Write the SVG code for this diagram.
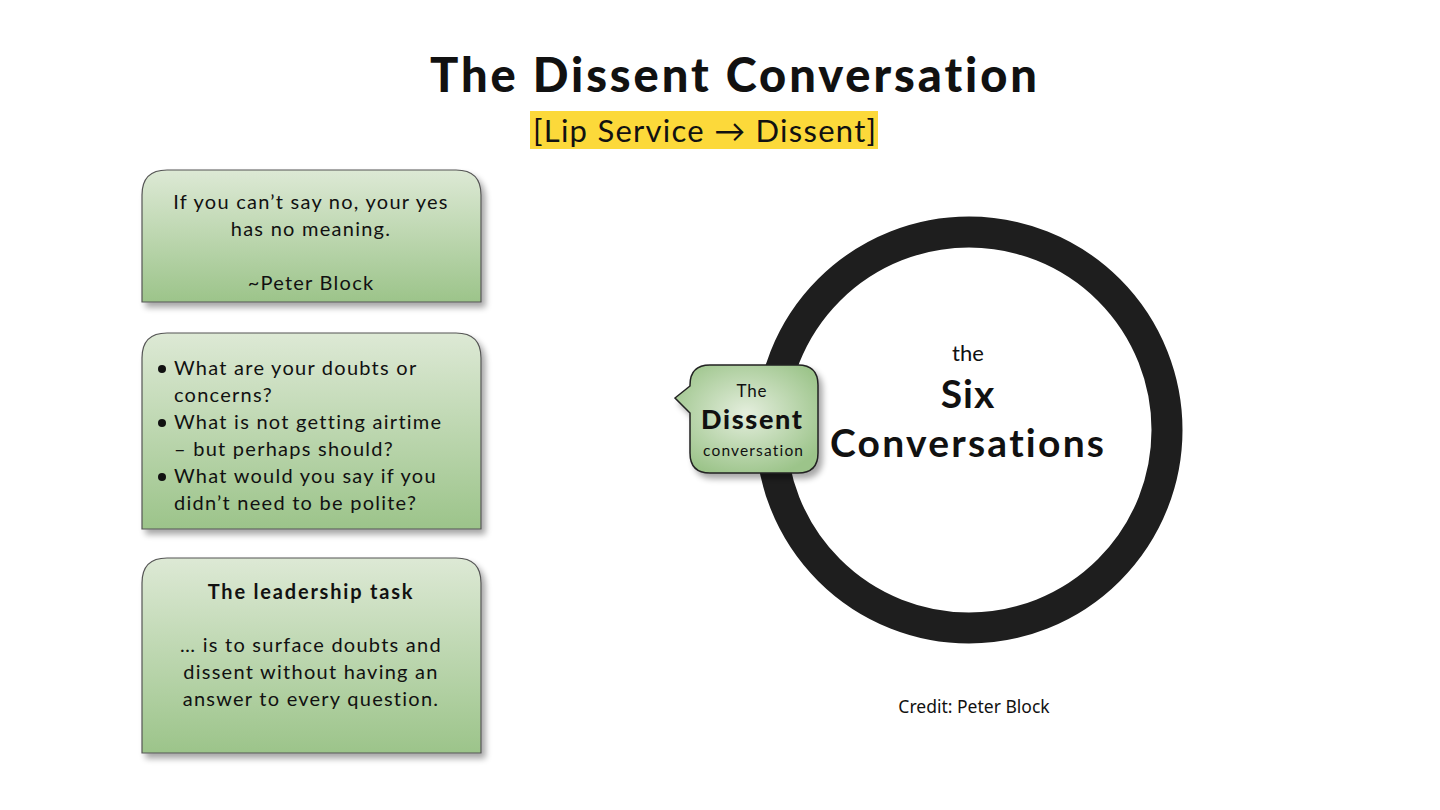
<svg xmlns="http://www.w3.org/2000/svg" width="1440" height="810" viewBox="0 0 1440 810">
<style>
text{font-variant-ligatures:none;font-feature-settings:"liga" 0;}
.t{font-family:Lato,"Open Sans",sans-serif;fill:#111;}
.box{stroke:#555;stroke-width:1.2;}
.bt{font-family:Lato,"Noto Sans",sans-serif;font-size:20px;fill:#111;letter-spacing:1.25px;}
</style>
<defs>
<linearGradient id="g" x1="0" y1="0" x2="0" y2="1">
<stop offset="0" stop-color="#dde9d5"/>
<stop offset="1" stop-color="#9cc48a"/>
</linearGradient>
<radialGradient id="rg" cx="0.5" cy="0.45" r="0.6">
<stop offset="0" stop-color="#e4eedd"/>
<stop offset="1" stop-color="#9cc48a"/>
</radialGradient>
<filter id="sh" x="-10%" y="-10%" width="130%" height="130%">
<feGaussianBlur in="SourceAlpha" stdDeviation="3"/>
<feOffset dx="4" dy="5"/>
<feComponentTransfer><feFuncA type="linear" slope="0.35"/></feComponentTransfer>
<feMerge><feMergeNode/><feMergeNode in="SourceGraphic"/></feMerge>
</filter>
</defs>
<rect width="1440" height="810" fill="#fff"/>
<g id="title">
<text class="t" x="430" y="92" font-size="47" font-weight="900" textLength="607" lengthAdjust="spacing">The Dissent Conversation</text>
<rect x="530" y="111" width="348" height="38" fill="#fcd93a"/>
<text class="t" x="533" y="142" font-size="31" textLength="343" lengthAdjust="spacing">[Lip Service → Dissent]</text>
</g>
<g id="quote">
<path class="box" filter="url(#sh)" d="M142 302 V195 Q142 170 167 170 H456 Q481 170 481 195 V302 Z" fill="url(#g)"/>
<text class="bt" x="311" y="209" text-anchor="middle">If you can’t say no, your yes</text>
<text class="bt" x="311" y="236" text-anchor="middle">has no meaning.</text>
<text class="bt" x="311" y="290" text-anchor="middle">~Peter Block</text>
</g>
<g id="questions">
<path class="box" filter="url(#sh)" d="M142 529 V358 Q142 333 167 333 H456 Q481 333 481 358 V529 Z" fill="url(#g)"/>
<circle cx="162" cy="369" r="4" fill="#111"/>
<circle cx="162" cy="423" r="4" fill="#111"/>
<circle cx="162" cy="477" r="4" fill="#111"/>
<text class="bt" x="174" y="375">What are your doubts or</text>
<text class="bt" x="174" y="402">concerns?</text>
<text class="bt" x="174" y="429">What is not getting airtime</text>
<text class="bt" x="174" y="456">– but perhaps should?</text>
<text class="bt" x="174" y="483">What would you say if you</text>
<text class="bt" x="174" y="510">didn’t need to be polite?</text>
</g>
<g id="task">
<path class="box" filter="url(#sh)" d="M142 753 V583 Q142 558 167 558 H456 Q481 558 481 583 V753 Z" fill="url(#g)"/>
<text class="bt" x="311" y="599" text-anchor="middle" font-weight="bold" style="letter-spacing:1.8px">The leadership task</text>
<text class="bt" x="311" y="652" text-anchor="middle">… is to surface doubts and</text>
<text class="bt" x="311" y="679" text-anchor="middle">dissent without having an</text>
<text class="bt" x="311" y="706" text-anchor="middle">answer to every question.</text>
</g>
<g id="circle">
<circle cx="969" cy="430" r="198" fill="#fff" stroke="#1e1e1e" stroke-width="31"/>
<text class="t" x="968" y="361" text-anchor="middle" font-size="22">the</text>
<text class="t" x="968" y="408" text-anchor="middle" font-size="39" font-weight="bold" letter-spacing="1">Six</text>
<text class="t" x="830" y="457" font-size="39" font-weight="bold" textLength="274" lengthAdjust="spacing">Conversations</text>
</g>
<g id="dissent">
<path filter="url(#sh)" d="M710 365 H798 Q818 365 818 385 V453 Q818 473 798 473 H710 Q690 473 690 453 V413 L675 398 L690 386 V385 Q690 365 710 365 Z" fill="url(#rg)" stroke="#222" stroke-width="1.5"/>
<text class="t" x="752" y="397" text-anchor="middle" font-size="17" letter-spacing="0.8">The</text>
<text class="t" x="701" y="429" font-size="27" font-weight="900" textLength="101" lengthAdjust="spacing">Dissent</text>
<text class="t" x="703" y="456" font-size="15.5" textLength="100" lengthAdjust="spacing">conversation</text>
</g>
<g id="credit">
<text x="974" y="713" text-anchor="middle" font-family="'Noto Sans',Lato,sans-serif" font-size="17.5" fill="#111">Credit: Peter Block</text>
</g>
</svg>
